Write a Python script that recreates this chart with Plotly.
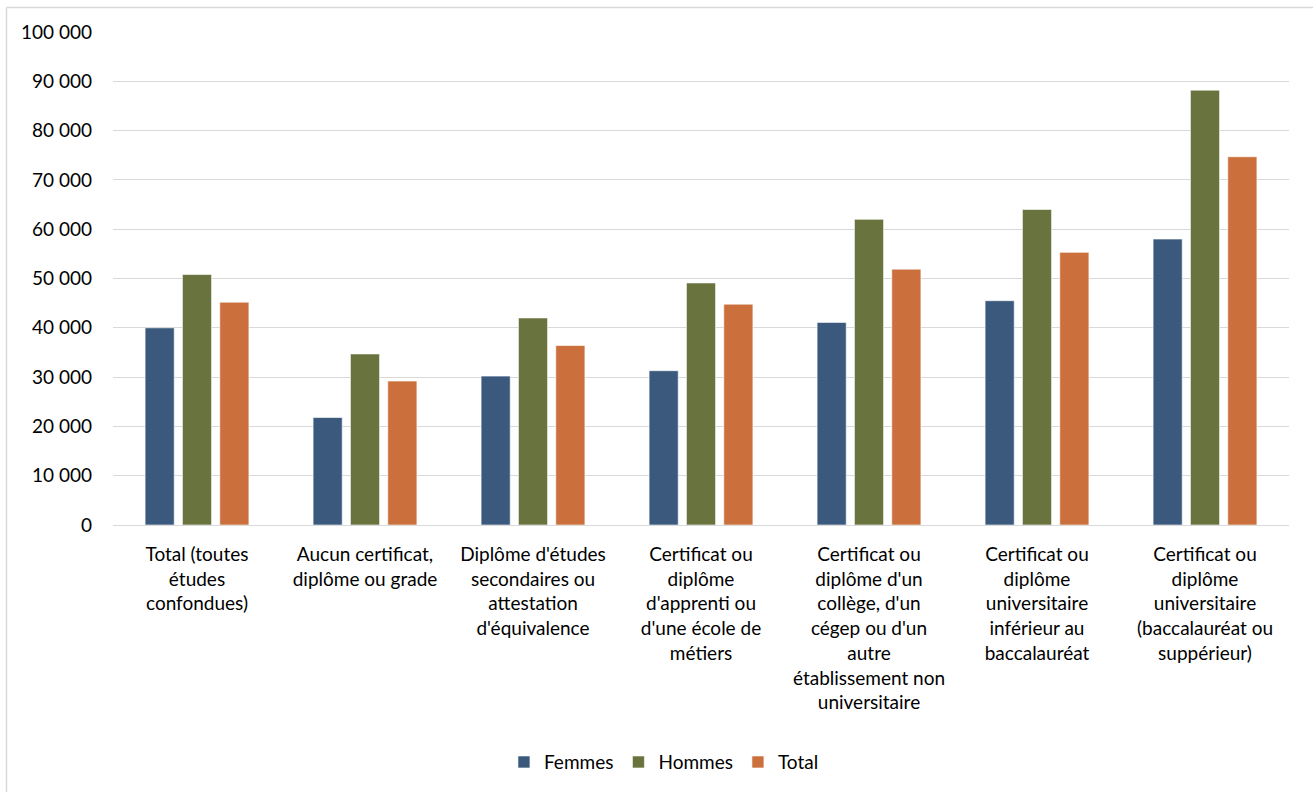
import plotly.graph_objects as go

categories = [
    "Total (toutes<br>études<br>confondues)",
    "Aucun certificat,<br>diplôme ou grade",
    "Diplôme d'études<br>secondaires ou<br>attestation<br>d'équivalence",
    "Certificat ou<br>diplôme<br>d'apprenti ou<br>d'une école de<br>métiers",
    "Certificat ou<br>diplôme d'un<br>collège, d'un<br>cégep ou d'un<br>autre<br>établissement non<br>universitaire",
    "Certificat ou<br>diplôme<br>universitaire<br>inférieur au<br>baccalauréat",
    "Certificat ou<br>diplôme<br>universitaire<br>(baccalauréat ou<br>suppérieur)",
]
femmes = [40000, 21800, 30200, 31300, 41100, 45500, 58000]
hommes = [50800, 34700, 42000, 49100, 62000, 64000, 88200]
total = [45200, 29200, 36400, 44800, 51900, 55300, 74700]

series = [("Femmes", femmes, "#3B597C"), ("Hommes", hommes, "#68733D"), ("Total", total, "#CB703D")]

tick_vals = list(range(0, 100001, 10000))
tick_text = ["0"] + [f"{v // 1000} 000" for v in tick_vals[1:]]

FONT = "Lato, Carlito, Calibri, sans-serif"

fig = go.Figure()
for name, vals, color in series:
    fig.add_trace(go.Bar(
        name=name, x=categories, y=vals,
        marker=dict(color=color, line=dict(color="rgba(255,255,255,0.6)", width=1)),
    ))

fig.update_layout(
    width=1313, height=792,
    margin=dict(l=113, r=24, t=32, b=266),
    paper_bgcolor="white", plot_bgcolor="white",
    barmode="group", bargap=0.333, bargroupgap=0.22,
    font=dict(family=FONT, size=19, color="#000000"),
    showlegend=True,
    legend=dict(orientation="h", x=0.4685, xanchor="center", y=-0.478, yanchor="middle",
                font=dict(family=FONT, size=19, color="#000000"), itemwidth=30,
                traceorder="normal"),
    xaxis=dict(showgrid=False, showline=False, ticks="", tickangle=0, ticklabelstandoff=16,
               tickfont=dict(family=FONT, size=19, color="#000000")),
    yaxis=dict(range=[0, 100000], tickvals=tick_vals, ticktext=tick_text,
               showgrid=True, gridcolor="#D9D9D9", gridwidth=1,
               zeroline=True, zerolinecolor="#D9D9D9", zerolinewidth=1,
               showline=False, ticks="", ticklabelstandoff=20,
               tickfont=dict(family=FONT, size=19, color="#000000")),
    shapes=[
        dict(type="line", xref="paper", yref="paper", x0=-0.0906, x1=-0.0906, y0=1.0496, y1=-0.6,
             line=dict(color="#D9D9D9", width=1.5)),
        dict(type="line", xref="paper", yref="paper", x0=-0.0906, x1=1.03, y0=1.0496, y1=1.0496,
             line=dict(color="#D9D9D9", width=1.5)),
    ],
)

fig.write_html("out.html")
